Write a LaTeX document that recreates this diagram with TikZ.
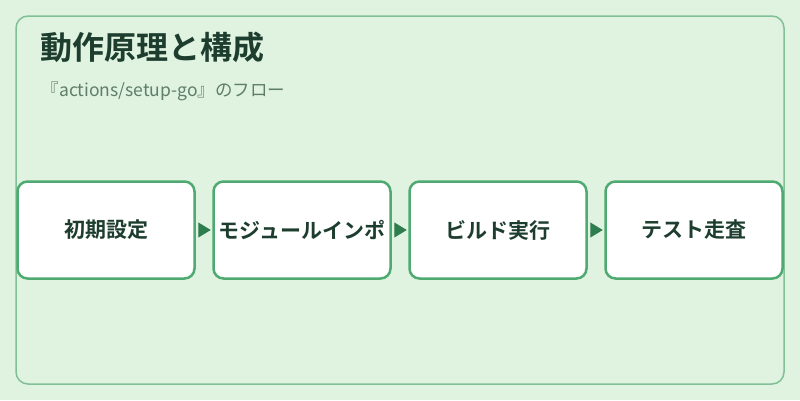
\documentclass[tikz,border=0pt]{standalone}
\usepackage{fontspec}
\setmainfont{Noto Sans CJK JP}[BoldFont={Noto Sans CJK JP Bold}]
\usetikzlibrary{positioning,arrows.meta}

\definecolor{bgGreen}{HTML}{E0F2E0}
\definecolor{frameGreen}{HTML}{80C096}
\definecolor{boxGreen}{HTML}{4EAA70}
\definecolor{arrowGreen}{HTML}{2E7D4F}
\definecolor{titleInk}{HTML}{1D3D2F}
\definecolor{subInk}{HTML}{5E7E6A}

\def\ya{230}

\begin{document}
\begin{tikzpicture}[x=1pt,y=-1pt,
    stepbox/.style={rounded corners=10pt, rectangle, draw=boxGreen, line width=2.5pt, fill=white,
      minimum width=177pt, minimum height=97pt, inner sep=0pt,
      font=\fontsize{21}{25}\selectfont\bfseries, text=titleInk},
    flow/.style={draw=arrowGreen, line width=1pt, -{Triangle[length=12.5pt,width=15pt]},
      fill=arrowGreen, shorten <=3pt, shorten >=1.5pt}]
    \useasboundingbox (0,0) rectangle (800,400);
    \fill[bgGreen] (0,0) rectangle (800,400);
    \draw[rounded corners=12pt, draw=frameGreen, line width=1.5pt, fill=bgGreen] (16,16) rectangle (784,384);

    \node[anchor=base west, inner sep=0pt, text=titleInk, font=\fontsize{32}{36}\selectfont\bfseries] (title) at (40, 59.5)
      {動作原理と構成};
    \node[anchor=base west, inner sep=0pt, text=subInk, font=\fontsize{17.5}{21}\selectfont] (subtitle) at (41.5, 96)
      {『actions/setup-go』のフロー};

    \node[stepbox] (init_setup) at (106, \ya) {初期設定};
    \node[stepbox, right=16.5pt of init_setup] (module_import) {モジュールインポ};
    \node[stepbox, right=16.5pt of module_import] (build_run) {ビルド実行};
    \node[stepbox, right=16.5pt of build_run] (test_scan) {テスト走査};

    \draw[flow] (init_setup)    -- (module_import);
    \draw[flow] (module_import) -- (build_run);
    \draw[flow] (build_run)     -- (test_scan);
  \end{tikzpicture}
\end{document}
